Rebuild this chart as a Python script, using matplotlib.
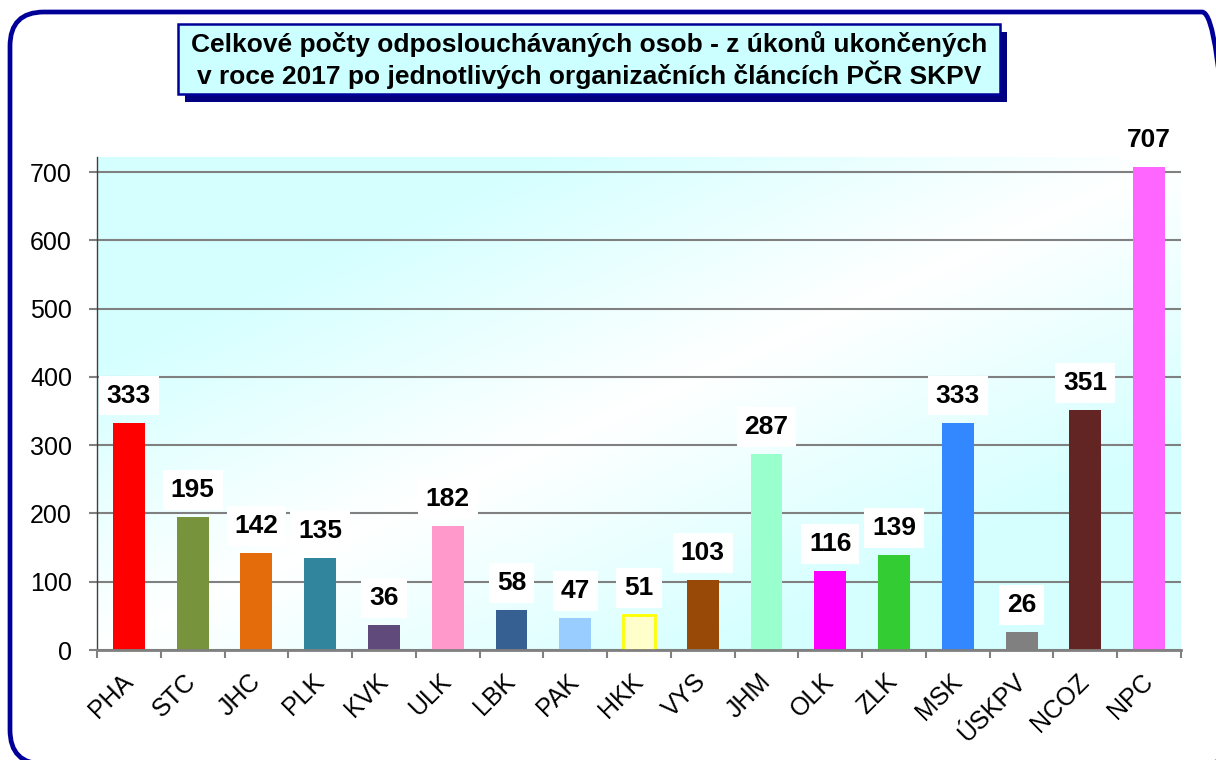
import numpy as np
import matplotlib
matplotlib.use("Agg")
import matplotlib.pyplot as plt
from matplotlib.patches import FancyBboxPatch, Rectangle

plt.rcParams['font.family'] = ['Liberation Sans', 'DejaVu Sans']

categories = ['PHA', 'STC', 'JHC', 'PLK', 'KVK', 'ULK', 'LBK', 'PAK', 'HKK', 'VYS',
              'JHM', 'OLK', 'ZLK', 'MSK', 'ÚSKPV', 'NCOZ', 'NPC']
values = [333, 195, 142, 135, 36, 182, 58, 47, 51, 103, 287, 116, 139, 333, 26, 351, 707]
colors = ['#FF0000', '#77933C', '#E46C0A', '#31859C', '#604A7B', '#FF99CC', '#376092',
          '#99CCFF', '#FFFFCC', '#984807', '#99FFCC', '#FF00FF', '#33CC33', '#3388FF',
          '#808080', '#632523', '#FF66FF']
edge_colors = [c if c != '#FFFFCC' else '#FFFF00' for c in colors]
yticks = [0, 100, 200, 300, 400, 500, 600, 700]
title = "Celkové počty odposlouchávaných osob - z úkonů ukončených\nv roce 2017 po jednotlivých organizačních článcích PČR SKPV"

W, H = 1216, 760
fig = plt.figure(figsize=(W / 100, H / 100), dpi=100)
fig.patch.set_facecolor('white')

def px(x, y):
    # pixel coords from top-left -> inches from bottom-left
    return x / 100, (H - y) / 100

# outer rounded frame
x0, y0 = px(10, 764)
frame = FancyBboxPatch((x0, y0), (1236 - 10) / 100, (764 - 12) / 100,
                       boxstyle="round,pad=0,rounding_size=0.34",
                       transform=fig.dpi_scale_trans, facecolor='none',
                       edgecolor='#000099', linewidth=3.4, zorder=0)
fig.add_artist(frame)

# axes
left, right = 97 / W, 1181 / W
bottom, top = (H - 650) / H, (H - 157) / H
ax = fig.add_axes([left, bottom, right - left, top - bottom])
ax.set_xlim(-0.5, len(categories) - 0.5)
ax.set_ylim(0, 722)
ax.set_facecolor('none')

# gradient background
ny, nx = 200, 400
u = np.linspace(0, 1, nx)[None, :]
v = np.linspace(0, 1, ny)[:, None]
t = (u + v) / 2
f = np.clip(np.abs(2 * t - 1) * 1.7, 0, 1)
cyan = np.array([213, 255, 255]) / 255
img = 1 - f[..., None] * (1 - cyan[None, None, :])
ax.imshow(img, extent=[0, 1, 0, 1], transform=ax.transAxes, aspect='auto', zorder=0)

x = np.arange(len(categories))
ax.bar(x, values, width=0.5, color=colors, edgecolor=edge_colors,
       linewidth=[2 if c == '#FFFFCC' else 0 for c in colors], zorder=3)

for xi, val in zip(x, values):
    ax.annotate(str(val), (xi, val), xytext=(0, 19.5), textcoords='offset points',
                ha='center', va='center', fontsize=19, fontweight='bold',
                bbox=dict(boxstyle='square,pad=0.3', facecolor='white', edgecolor='none'),
                zorder=5, annotation_clip=False)

ax.set_yticks(yticks)
ax.set_yticklabels([str(v) for v in yticks], fontsize=18)
ax.yaxis.grid(True, color='#808080', linewidth=1.5, zorder=1)
ax.set_axisbelow(True)

ax.set_xticks(np.arange(-0.5, len(categories), 1.0))
ax.set_xticklabels([])
ax.set_xticks(x, minor=True)
ax.set_xticklabels(categories, minor=True, fontsize=18, rotation=45,
                   ha='right', va='center', rotation_mode='anchor')
ax.tick_params(axis='x', which='major', length=6, width=1.5, color='#808080', direction='out')
ax.tick_params(axis='x', which='minor', length=0, pad=20)
ax.tick_params(axis='y', which='major', length=6, width=1.5, color='#808080', pad=12)

for s in ['top', 'right']:
    ax.spines[s].set_visible(False)
ax.spines['bottom'].set_color('#808080')
ax.spines['bottom'].set_linewidth(2)
ax.spines['bottom'].set_zorder(4)
ax.spines['left'].set_color('#404040')
ax.spines['left'].set_linewidth(1)

# title box with shadow
bx0, bx1, by0, by1 = 178, 1000, 24, 94
sh = Rectangle(px(bx0 + 7, by1 + 8), (bx1 - bx0) / 100, (by1 - by0) / 100,
               transform=fig.dpi_scale_trans, facecolor='#000080', edgecolor='none', zorder=1)
fig.add_artist(sh)
tb = Rectangle(px(bx0, by1), (bx1 - bx0) / 100, (by1 - by0) / 100,
               transform=fig.dpi_scale_trans, facecolor='#CCFFFF', edgecolor='#000099',
               linewidth=1.8, zorder=2)
fig.add_artist(tb)
fig.text((bx0 + bx1) / 2 / W, 1 - 60 / H, title, ha='center', va='center',
         fontsize=19, fontweight='bold', linespacing=1.12, zorder=3)

fig.savefig('out.png', dpi=100)
